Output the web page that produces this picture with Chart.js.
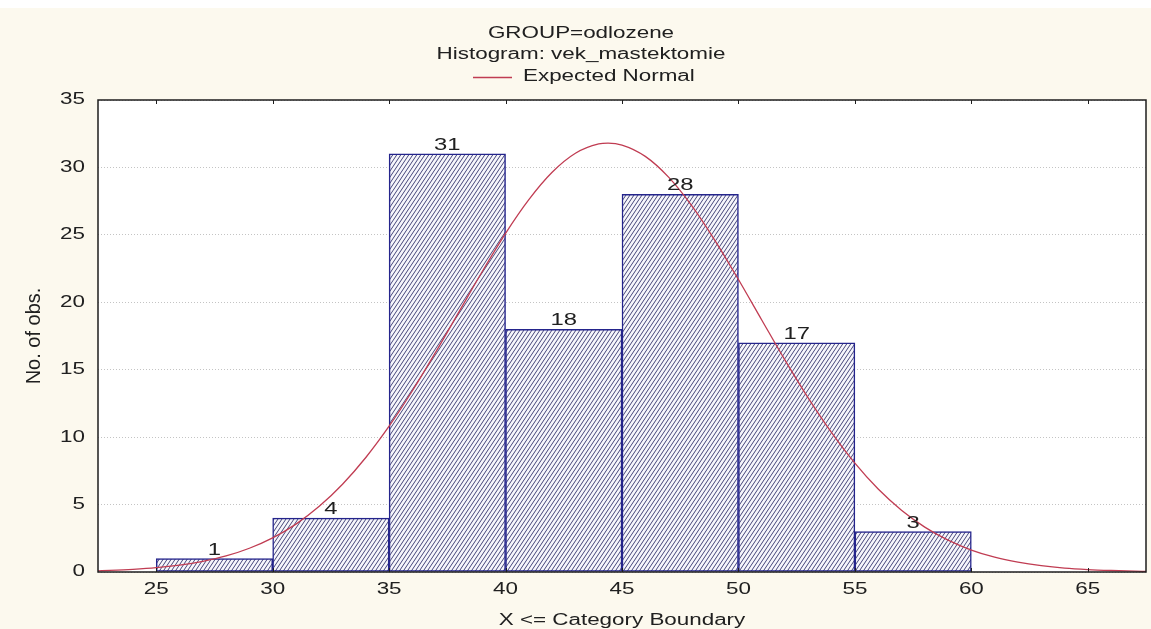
<!DOCTYPE html>
<html>
<head>
<meta charset="utf-8">
<title>GROUP=odlozene</title>
<script src="https://cdn.jsdelivr.net/npm/chart.js@4.4.1/dist/chart.umd.min.js"></script>
<style>
  html, body { margin: 0; padding: 0; background: #fcf9ee; }
  #wrap { width: 1151px; height: 629px; }
</style>
</head>
<body>
<div id="wrap"><canvas id="hist" width="1151" height="629"></canvas></div>
<script>
"use strict";

// histogram bins (upper boundaries shown on the axis)
const boundaries = [25, 30, 35, 40, 45, 50, 55, 60];
const counts = [1, 4, 31, 18, 28, 17, 3];
const xTicks = [25, 30, 35, 40, 45, 50, 55, 60, 65];

// expected normal curve, read at unit steps
const normalX = [22.5, 23, 24, 25, 26, 27, 28, 29, 30, 31, 32, 33, 34, 35, 36, 37, 38, 39, 40,
    41, 42, 43, 44, 44.4, 45, 46, 47, 48, 49, 50, 51, 52, 53, 54, 55, 56, 57, 58, 59, 60,
    61, 62, 63, 64, 65, 66, 67, 67.5];
const normalY = [0.09, 0.12, 0.20, 0.32, 0.51, 0.79, 1.19, 1.76, 2.53, 3.55, 4.87, 6.51, 8.49, 10.81, 13.44, 16.30, 19.29, 22.28, 25.11,
    27.61, 29.64, 31.05, 31.74, 31.8, 31.66, 30.82, 29.28, 27.15, 24.56, 21.69, 18.69, 15.71, 12.89, 10.33, 8.07, 6.15, 4.58, 3.33, 2.36, 1.63,
    1.10, 0.73, 0.47, 0.29, 0.18, 0.11, 0.06, 0.05];

const FONT = "'Liberation Sans', Arial, sans-serif";
const STRETCH = 1.4;

const canvas = document.getElementById('hist');
const ctx = canvas.getContext('2d');

// wide screen-font look: horizontal text is drawn stretched around its anchor
const rawFill = ctx.fillText.bind(ctx);
const rawMeasure = ctx.measureText.bind(ctx);
ctx.fillText = function (text, x, y, maxWidth) {
    const m = ctx.getTransform();
    if (m.b !== 0 || m.c !== 0) {
        return rawFill(text, x, y);
    }
    ctx.save();
    ctx.translate(x, y);
    ctx.scale(STRETCH, 1);
    rawFill(text, 0, 0);
    ctx.restore();
};
ctx.measureText = function (text) {
    const m = rawMeasure(text);
    return { width: m.width * STRETCH, actualBoundingBoxAscent: m.actualBoundingBoxAscent,
        actualBoundingBoxDescent: m.actualBoundingBoxDescent };
};

// diagonal hatch fill for the bars
function makeHatch() {
    const tile = document.createElement('canvas');
    tile.width = 4;
    tile.height = 6;
    const t = tile.getContext('2d');
    t.fillStyle = '#f6f6fb';
    t.fillRect(0, 0, 4, 6);
    t.strokeStyle = '#46467a';
    t.lineWidth = 1;
    for (const dx of [-4, 0, 4]) {
        t.beginPath();
        t.moveTo(dx - 4, 12);
        t.lineTo(dx + 8, -6);
        t.stroke();
    }
    return ctx.createPattern(tile, 'repeat');
}

const barData = counts.map((c, i) => ({ x: (boundaries[i] + boundaries[i + 1]) / 2, y: c }));
const curveData = normalX.map((x, i) => ({ x: x, y: normalY[i] }));

const backdrop = {
    id: 'backdrop',
    beforeDraw(chart) {
        const c = chart.ctx;
        const a = chart.chartArea;
        c.save();
        c.fillStyle = '#ffffff';
        c.fillRect(0, 0, chart.width, 8);
        c.fillStyle = '#fcf9ee';
        c.fillRect(0, 8, chart.width, chart.height - 8);
        c.fillStyle = '#ffffff';
        c.fillRect(a.left, a.top, a.right - a.left, a.bottom - a.top);
        c.restore();
    }
};

const decorations = {
    id: 'decorations',
    afterDatasetsDraw(chart) {
        const c = chart.ctx;
        const xs = chart.scales.x;
        const ys = chart.scales.y;
        c.save();
        c.fillStyle = '#202020';
        c.font = '17px ' + FONT;
        c.textAlign = 'center';
        c.textBaseline = 'alphabetic';
        barData.forEach(p => {
            c.fillText(String(p.y), xs.getPixelForValue(p.x), ys.getPixelForValue(p.y) - 4);
        });
        c.restore();
    },
    afterDraw(chart) {
        const c = chart.ctx;
        const a = chart.chartArea;
        const xs = chart.scales.x;
        c.save();
        // frame
        c.strokeStyle = '#1e1e1e';
        c.lineWidth = 1.5;
        c.strokeRect(a.left, a.top, a.right - a.left, a.bottom - a.top);
        // small inner tick marks on top and bottom edges
        c.lineWidth = 1;
        xTicks.forEach(v => {
            const px = Math.round(xs.getPixelForValue(v)) + 0.5;
            c.beginPath();
            c.moveTo(px, a.top);
            c.lineTo(px, a.top + 4);
            c.moveTo(px, a.bottom);
            c.lineTo(px, a.bottom - 4);
            c.stroke();
        });
        // titles
        c.fillStyle = '#202020';
        c.font = '16px ' + FONT;
        c.textAlign = 'center';
        c.textBaseline = 'alphabetic';
        c.fillText('GROUP=odlozene', 581, 38);
        c.fillText('Histogram: vek_mastektomie', 581, 59);
        // legend for the curve
        c.strokeStyle = '#c03c52';
        c.lineWidth = 1.3;
        c.beginPath();
        c.moveTo(473, 77.5);
        c.lineTo(512, 77.5);
        c.stroke();
        c.textAlign = 'left';
        c.fillText(chart.data.datasets[0].label, 523, 81);
        c.restore();
    }
};

new Chart(ctx, {
    type: 'bar',
    data: {
        datasets: [{
            type: 'line',
            label: 'Expected Normal',
            data: curveData,
            borderColor: '#c03c52',
            borderWidth: 1.3,
            pointRadius: 0,
            cubicInterpolationMode: 'monotone',
            order: 0
        }, {
            type: 'bar',
            label: 'vek_mastektomie',
            data: barData,
            backgroundColor: makeHatch(),
            borderColor: '#24248c',
            borderWidth: 1.5,
            borderSkipped: false,
            barPercentage: 1,
            categoryPercentage: 1,
            order: 1
        }]
    },
    options: {
        responsive: false,
        animation: false,
        devicePixelRatio: 1,
        layout: { padding: { top: 100, left: 0, right: 5, bottom: 0 } },
        plugins: {
            legend: { display: false },
            title: { display: false },
            tooltip: { enabled: false }
        },
        scales: {
            x: {
                type: 'linear',
                min: 22.5,
                max: 67.5,
                offset: false,
                grid: { display: false, drawTicks: false },
                border: { display: false },
                afterBuildTicks(scale) {
                    scale.ticks = xTicks.map(v => ({ value: v }));
                },
                afterFit(scale) {
                    scale.height = 57;
                },
                ticks: {
                    padding: 8,
                    color: '#202020',
                    font: { family: FONT, size: 16 }
                },
                title: {
                    display: true,
                    text: 'X <= Category Boundary',
                    color: '#202020',
                    padding: 0,
                    font: { family: FONT, size: 16, lineHeight: 1 }
                }
            },
            y: {
                min: 0,
                max: 35,
                grid: { color: '#c4c4c4', lineWidth: 1, drawTicks: false },
                border: { display: false, dash: [1, 2] },
                afterFit(scale) {
                    scale.width = 98;
                },
                ticks: {
                    stepSize: 5,
                    padding: 13,
                    color: '#202020',
                    font: { family: FONT, size: 16 }
                },
                title: {
                    display: true,
                    text: 'No. of obs.',
                    color: '#202020',
                    padding: { top: 24 },
                    font: { family: FONT, size: 20, lineHeight: 1 }
                }
            }
        }
    },
    plugins: [backdrop, decorations]
});
</script>
</body>
</html>
